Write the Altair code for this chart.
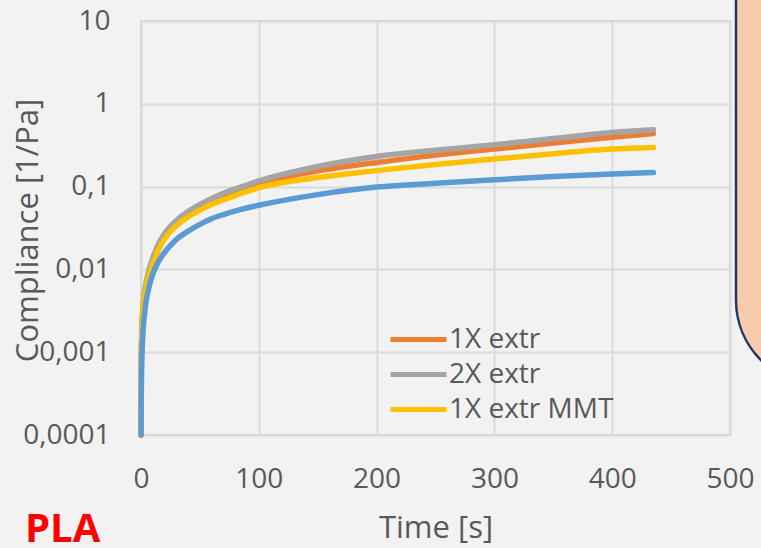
import altair as alt
import pandas as pd

time_s = [0.08, 0.25, 0.5, 1, 2, 4, 7, 10, 15, 20, 25, 30, 40, 50, 60, 70, 85, 100, 150, 200, 250, 300, 350, 400, 435]
x1_extr = [0.0001, 0.0008, 0.0014, 0.0023, 0.0039, 0.0063, 0.0097, 0.013, 0.0195, 0.0258, 0.0316, 0.037, 0.0475, 0.057, 0.067, 0.077, 0.093, 0.109, 0.155, 0.195, 0.24, 0.284, 0.335, 0.395, 0.438]
x2_extr = [0.0001, 0.0008, 0.0014, 0.0024, 0.0040, 0.0065, 0.0100, 0.0138, 0.0204, 0.0269, 0.0331, 0.0389, 0.050, 0.061, 0.072, 0.083, 0.099, 0.117, 0.175, 0.231, 0.275, 0.32, 0.38, 0.45, 0.485]
x1_mmt = [0.0001, 0.0007, 0.0013, 0.0021, 0.0035, 0.0057, 0.0087, 0.0115, 0.0175, 0.0233, 0.0287, 0.0337, 0.043, 0.052, 0.061, 0.069, 0.083, 0.097, 0.129, 0.156, 0.185, 0.215, 0.25, 0.284, 0.297]
pla = [0.0001, 0.0003, 0.0006, 0.0011, 0.0020, 0.0038, 0.0063, 0.0088, 0.0126, 0.016, 0.0195, 0.023, 0.029, 0.035, 0.041, 0.046, 0.053, 0.0595, 0.080, 0.0986, 0.110, 0.121, 0.132, 0.142, 0.148]

series_names = ["1X extr", "2X extr", "1X extr MMT", "PLA"]
series_colors = ["#ED7D31", "#A5A5A5", "#FFC000", "#5B9BD5"]
legend_names = ["1X extr", "2X extr", "1X extr MMT"]
y_ticks = [0.0001, 0.001, 0.01, 0.1, 1, 10]
x_ticks = [0, 100, 200, 300, 400, 500]

rows = []
for name, vals in zip(series_names, [x1_extr, x2_extr, x1_mmt, pla]):
    for i, (t, v) in enumerate(zip(time_s, vals)):
        rows.append({"Time": t, "Compliance": v, "Series": name, "idx": i})
df = pd.DataFrame(rows)

FONT = "Open Sans"
TXT = "#595959"

lines = alt.Chart(df).mark_line(strokeWidth=5.5, strokeCap="round", strokeJoin="round",
                                interpolate="monotone").encode(
    x=alt.X("Time:Q", scale=alt.Scale(domain=[0, 500], nice=False),
            axis=alt.Axis(values=x_ticks, title="Time [s]", format="d", labelFlush=False,
                          labelFontSize=28, labelColor=TXT, labelFont=FONT, labelPadding=30,
                          ticks=False, tickSize=0, domain=False, gridColor="#D9D9D9", gridWidth=2,
                          titleFontSize=31, titleFont=FONT, titleColor=TXT, titleFontWeight="normal",
                          titleBaseline="alphabetic", titleY=102)),
    y=alt.Y("Compliance:Q", scale=alt.Scale(type="log", domain=[0.0001, 10], nice=False),
            axis=alt.Axis(values=y_ticks, title="Compliance [1/Pa]",
                          labelExpr="datum.value >= 1 ? format(datum.value, 'd') : replace(format(datum.value, '~g'), '.', ',')",
                          labelFontSize=28, labelColor=TXT, labelFont=FONT, labelPadding=31,
                          ticks=False, tickSize=0, domain=False, gridColor="#D9D9D9", gridWidth=2,
                          titleFontSize=31, titleFont=FONT, titleColor=TXT, titleFontWeight="normal",
                          titleAngle=270, titleBaseline="alphabetic", titleAlign="center",
                          titleX=-104, titleY=209)),
    color=alt.Color("Series:N", scale=alt.Scale(domain=series_names, range=series_colors),
                    legend=alt.Legend(values=legend_names, title=None, orient="none",
                                      legendX=247, legendY=301, symbolType="stroke",
                                      symbolSize=3136, symbolStrokeWidth=5, labelOffset=0,
                                      labelFontSize=28, labelFont=FONT, labelColor=TXT,
                                      labelLimit=400, rowPadding=0, clipHeight=35, padding=0)),
    order=alt.Order("idx:Q"),
)

dummy = alt.Data(values=[{"a": 1}])

box = alt.Chart(dummy).mark_rect(fill="#F8CBAD", stroke="#203864", strokeWidth=2.5,
                                 cornerRadiusBottomLeft=85).encode(
    x=alt.value(595), x2=alt.value(800), y=alt.value(-60), y2=alt.value(364))

label = alt.Chart(dummy).mark_text(text="PLA", color="#FF0000", font=FONT, fontSize=40,
                                   fontWeight="bold", align="left", baseline="alphabetic").encode(
    x=alt.value(-116), y=alt.value(521))

chart = alt.layer(box, lines, label).properties(
    width=589, height=414,
    background="#F2F2F2",
    padding={"left": 141, "top": 21, "right": 31, "bottom": 113},
    autosize=alt.AutoSizeParams(type="none"),
).configure_view(stroke="#D9D9D9", strokeWidth=2)

chart.save("out.html", embed_options={"renderer": "svg", "actions": False})
